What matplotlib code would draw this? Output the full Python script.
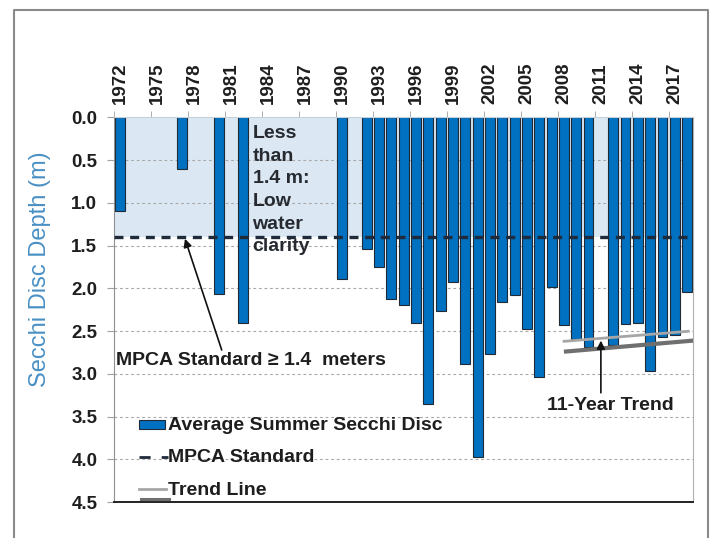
import matplotlib
matplotlib.use('Agg')
import matplotlib.pyplot as plt
from matplotlib.lines import Line2D
from matplotlib.patches import Rectangle

plt.rcParams['font.family'] = ['Liberation Sans', 'DejaVu Sans']

#Data (depth in meters)
years = [1972, 1977, 1980, 1982, 1990, 1992, 1993, 1994, 1995, 1996, 1997,
         1998, 1999, 2000, 2001, 2002, 2003, 2004, 2005, 2006, 2007, 2008,
         2009, 2010, 2012, 2013, 2014, 2015, 2016, 2017, 2018]
depth = [1.10, 0.60, 2.07, 2.40, 1.89, 1.54, 1.75, 2.12, 2.19, 2.40, 3.35,
         2.26, 1.92, 2.88, 3.97, 2.77, 2.16, 2.08, 2.48, 3.04, 1.98, 2.43,
         2.59, 2.68, 2.66, 2.42, 2.41, 2.97, 2.57, 2.54, 2.04]
label_years = list(range(1972, 2018, 3))
standard = 1.4

#11-year trend (two lines as drawn on the original)
trend_light_x = [2007.9, 2018.2]
trend_light_y = [2.62, 2.50]
trend_dark_x = [2008.0, 2018.5]
trend_dark_y = [2.74, 2.61]

txt = '#1e1e1e'
blue = '#0070C0'

fig = plt.figure(figsize=(7.15, 5.38), dpi=100)
ax = fig.add_axes([0.1594, 0.0664, 0.8103, 0.7156])

#outer frame
fig.add_artist(Line2D([13.5/715, 13.5/715, 707.7/715, 707.7/715],
                      [0, 1-10/538, 1-10/538, 0], transform=fig.transFigure,
                      color='#8a8a8a', lw=1.5))

ax.set_xlim(1971.5, 2018.5)
ax.set_ylim(4.5, 0)

#shaded low clarity zone
ax.axhspan(0, standard, color='#DBE8F3', zorder=0, lw=0)

#grid
for g in [0.5, 1.0, 1.5, 2.0, 2.5, 3.0, 3.5, 4.0]:
    ax.axhline(g, color='#a8a8a8', lw=0.8, ls=(0, (2.5, 2.5)), zorder=1)

ax.bar(years, depth, width=0.8, color=blue, edgecolor='#1f2a36', lw=0.8, zorder=2)
ax.axhline(standard, color='#1f2a3a', lw=2.4, ls=(0, (2.7, 2.0)), zorder=4)

ax.plot(trend_light_x, trend_light_y, color='#a6a6a6', lw=2.0, zorder=5,
        solid_capstyle='butt')
ax.plot(trend_dark_x, trend_dark_y, color='#6f6f6f', lw=3.0, zorder=5,
        solid_capstyle='butt')

#axes styling
ax.xaxis.tick_top()
ax.set_xticks(label_years)
ax.set_xticklabels([str(y) for y in label_years], rotation=90, fontsize=13.5,
                   fontweight='bold', color=txt)
ax.set_xticks([y - 0.5 for y in label_years], minor=True)
ax.tick_params(axis='x', which='major', length=0, pad=9.5)
ax.tick_params(axis='x', which='minor', length=4.5, color='#a0a0a0', direction='out')
ax.set_yticks([0, 0.5, 1.0, 1.5, 2.0, 2.5, 3.0, 3.5, 4.0, 4.5])
ax.set_yticklabels(['%.1f' % v for v in ax.get_yticks()], fontsize=13.5,
                   fontweight='bold', color=txt)
ax.tick_params(axis='y', length=5, color='#a0a0a0', pad=7, direction='out')
ax.spines['top'].set_color('#c4d0da')
ax.spines['left'].set_color('#909090')
ax.spines['right'].set_color('#b0b0b0')
ax.spines['bottom'].set_color('#111111')
ax.spines['bottom'].set_linewidth(1.3)
ax.set_ylabel('Secchi Disc Depth (m)', fontsize=17, color='#4a90c4')
ax.yaxis.set_label_coords(-0.108, 0.605)

#"Less than" note
note = ['Less', 'than', '1.4 m:', 'Low', 'water', 'clarity']
for i, line in enumerate(note):
    ax.text(1982.74, 0.19 + i*0.265, line, fontsize=14, fontweight='bold',
            color='#262a30', ha='left', va='center', zorder=6)

#standard annotation
ax.text(1971.7, 2.837, 'MPCA Standard \u2265 1.4  meters', fontsize=14,
        fontweight='bold', color=txt, ha='left', va='center', zorder=6)
ax.annotate('', xy=(1977.26, 1.42), xytext=(1980.24, 2.72),
            arrowprops=dict(arrowstyle='-|>', color='#111111', lw=1.2,
                            mutation_scale=12, shrinkA=0, shrinkB=0), zorder=6)

#trend annotation
ax.text(2011.74, 3.363, '11-Year Trend', fontsize=14, fontweight='bold',
        color=txt, ha='center', va='center', zorder=6)
ax.annotate('', xy=(2011.0, 2.61), xytext=(2011.0, 3.22),
            arrowprops=dict(arrowstyle='-|>', color='#111111', lw=1.2,
                            mutation_scale=12, shrinkA=0, shrinkB=0), zorder=6)

#legend drawn by hand (Excel style)
ax.add_patch(Rectangle((1973.57, 3.534), 2.1, 0.11, facecolor=blue,
                       edgecolor='#1f2a36', lw=0.8, zorder=6))
ax.plot([1973.57, 1975.85], [3.975, 3.975], color='#1f2a3a', lw=2.0,
        ls=(0, (4, 4)), zorder=6)
ax.plot([1973.57, 1975.7], [4.348, 4.348], color='#a6a6a6', lw=2.0, zorder=6)
ax.plot([1973.7, 1975.95], [4.462, 4.462], color='#6f6f6f', lw=2.2, zorder=6)
leg_y = [3.60, 3.98, 4.36]
leg_txt = ['Average Summer Secchi Disc', 'MPCA Standard', 'Trend Line']
for y, t in zip(leg_y, leg_txt):
    ax.text(1975.9, y, t, fontsize=14, fontweight='bold', color=txt,
            ha='left', va='center', zorder=6)

plt.savefig('out.png', dpi=100)
